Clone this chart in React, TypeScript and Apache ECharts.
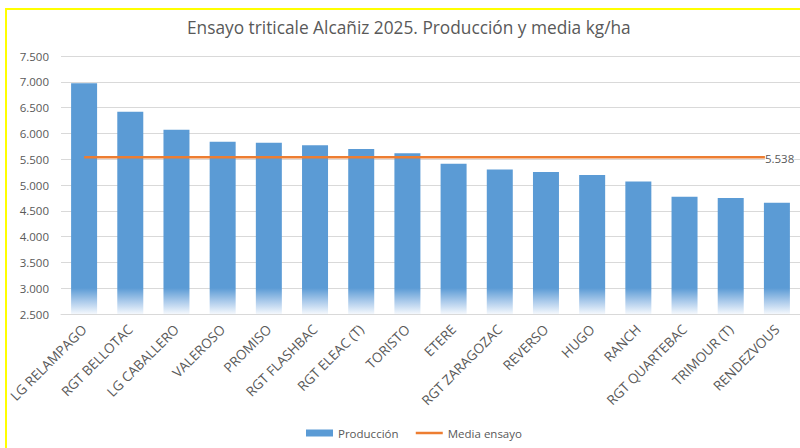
import React, { useEffect, useRef } from "react";
import * as echarts from "echarts";

const categories = [
  "LG RELAMPAGO",
  "RGT BELLOTAC",
  "LG CABALLERO",
  "VALEROSO",
  "PROMISO",
  "RGT FLASHBAC",
  "RGT ELEAC (T)",
  "TORISTO",
  "ETERE",
  "RGT ZARAGOZAC",
  "REVERSO",
  "HUGO",
  "RANCH",
  "RGT QUARTEBAC",
  "TRIMOUR (T)",
  "RENDEZVOUS",
];

const produccion = [6970, 6420, 6070, 5840, 5820, 5770, 5700, 5615, 5410, 5300, 5250, 5195, 5070, 4770, 4750, 4655];

const mediaEnsayo = [5538, 5538, 5538, 5538, 5538, 5538, 5538, 5538, 5538, 5538, 5538, 5538, 5538, 5538, 5538, 5538];

const yTicks = { min: 2500, max: 7500, interval: 500 };

const fmt = (v: number) => String(Math.round(v)).replace(/\B(?=(\d{3})+(?!\d))/g, ".");

export default function App() {
  const ref = useRef<HTMLDivElement>(null);

  useEffect(() => {
    if (!ref.current) return;
    const chart = echarts.init(ref.current, null, { renderer: "svg" });
    const font = "'Open Sans', 'DejaVu Sans', sans-serif";
    const txt = "#595959";
    chart.setOption({
      animation: false,
      backgroundColor: "#ffffff",
      textStyle: { fontFamily: font },
      title: {
        text: "Ensayo triticale Alcañiz 2025. Producción y media kg/ha",
        left: 182,
        top: 14,
        textStyle: { fontFamily: font, fontSize: 17.3, fontWeight: "normal", color: txt },
      },
      graphic: [
        {
          type: "rect",
          shape: { x: 6, y: 9, width: 900, height: 900 },
          style: { fill: "none", stroke: "#ffff00", lineWidth: 2 },
          silent: true,
          z: 100,
        },
      ],
      legend: {
        left: 301,
        top: 422,
        itemWidth: 27,
        itemHeight: 7,
        itemGap: 16,
        textStyle: { fontFamily: font, fontSize: 11.5, color: txt },
        data: [
          { name: "Producción", icon: "rect" },
          { name: "Media ensayo", itemStyle: { opacity: 0 }, lineStyle: { width: 2.5, color: "#ED7D31" } },
        ],
      },
      grid: { left: 61, top: 56, width: 743, height: 258, containLabel: false },
      xAxis: {
        type: "category",
        data: categories,
        boundaryGap: true,
        axisLine: { show: true, lineStyle: { color: "#d9d9d9", width: 1 } },
        axisTick: { show: false },
        axisLabel: {
          rotate: 45,
          interval: 0,
          margin: 13,
          fontFamily: font,
          fontSize: 13.5,
          color: txt,
        },
      },
      yAxis: {
        type: "value",
        min: yTicks.min,
        max: yTicks.max,
        interval: yTicks.interval,
        axisLine: { show: false },
        axisTick: { show: false },
        splitLine: { lineStyle: { color: "#d9d9d9", width: 1 } },
        axisLabel: {
          margin: 12,
          fontFamily: font,
          fontSize: 11.5,
          color: txt,
          formatter: (v: number) => fmt(v),
        },
      },
      series: [
        {
          name: "Producción",
          type: "bar",
          data: produccion,
          barWidth: 26,
          itemStyle: {
            color: new echarts.graphic.LinearGradient(
              0,
              288,
              0,
              314,
              [
                { offset: 0, color: "#5B9BD5" },
                { offset: 0.5, color: "#a9c9ea" },
                { offset: 1, color: "#f4f8fd" },
              ],
              true
            ),
          },
          z: 2,
        },
        {
          name: "Media ensayo",
          type: "line",
          data: mediaEnsayo,
          symbol: "none",
          lineStyle: { color: "#ED7D31", width: 2.5 },
          itemStyle: { color: "#ED7D31" },
          endLabel: {
            show: true,
            formatter: (p: any) => fmt(p.value),
            fontFamily: font,
            fontSize: 11.5,
            color: txt,
            backgroundColor: "#ffffff",
            offset: [-20, 1],
          },
          z: 3,
        },
      ],
    });
    return () => chart.dispose();
  }, []);

  return (
    <div
      ref={ref}
      style={{ position: "absolute", left: 0, top: 0, width: 800, height: 448 }}
    />
  );
}
